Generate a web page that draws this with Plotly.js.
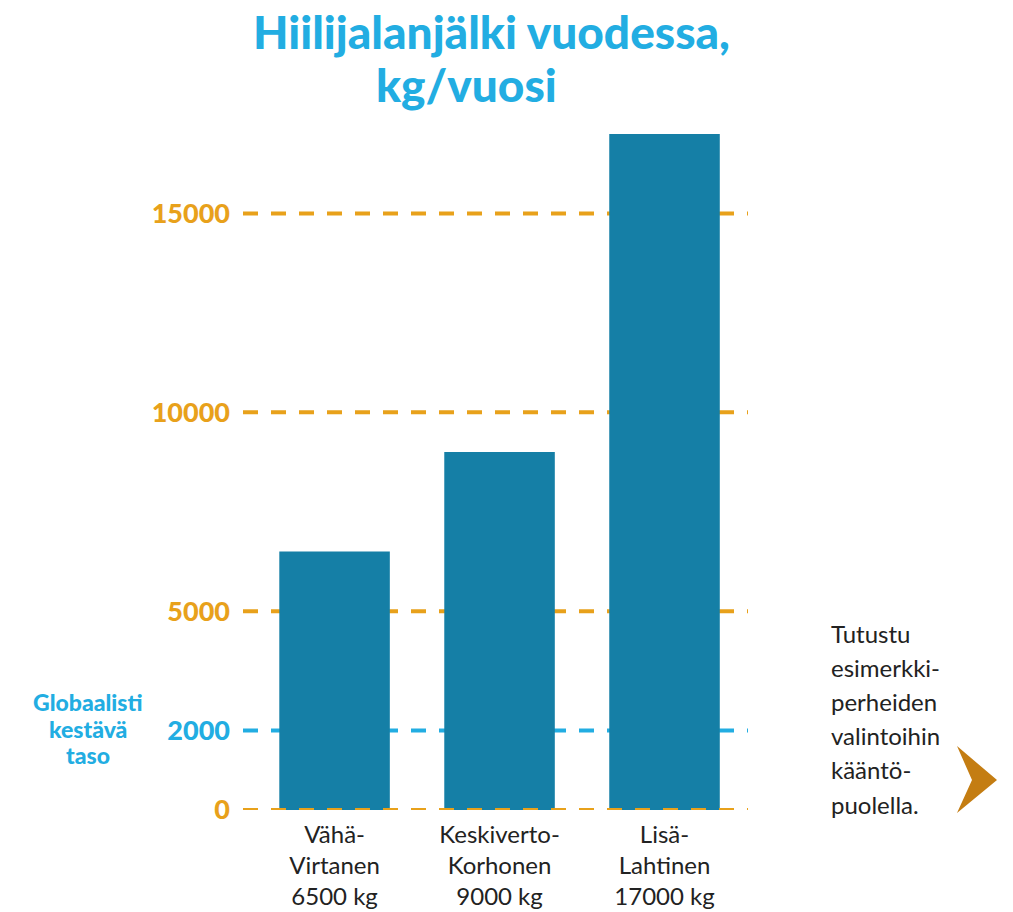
<!DOCTYPE html>
<html>
<head>
<meta charset="utf-8">
<script src="https://cdn.plot.ly/plotly-3.0.1.min.js"></script>
<style>html,body{margin:0;padding:0;background:#fff;}#chart{width:1013px;height:912px;}</style>
</head>
<body>
<div id="chart"></div>
<script>
// ---- data ----
const families = ["Vähä-<br>Virtanen", "Keskiverto-<br>Korhonen", "Lisä-<br>Lahtinen"];
const footprints = [6500, 9000, 17000];
const levelValues = [0, 2000, 5000, 10000, 15000];
const levelLabels = ["0", "2000", "5000", "10000", "15000"];
const sustainableLevel = 2000;
const sustainableLabel = ["Globaalisti", "kestävä", "taso"];
const sideNote = ["Tutustu", "esimerkki-", "perheiden", "valintoihin", "kääntö-", "puolella."];
const titleLines = ["Hiilijalanjälki vuodessa,", "kg/vuosi"];

// ---- styles ----
const ORANGE = "#e8a11b", BLUE = "#22ade2", BAR = "#157fa6", DARK = "#222222", ARROW = "#c47d12";
const FONT = "Lato, 'Open Sans', sans-serif";
const HEAVY = "'Lato Black', 'Lato Heavy', Lato, sans-serif";
const W = 1013, H = 912;
const L = 243, R = 748, T = 113.5, B = 810;
const px2x = p => (p - L) / (R - L);
const px2y = p => (B - p) / (B - T);

const xIdx = families.map((_, i) => i);

const trace = {
  type: "bar",
  x: xIdx,
  y: footprints,
  width: 0.67,
  marker: {color: BAR, line: {width: 0}},
  hoverinfo: "skip"
};

const shapes = levelValues.map(v => ({
  type: "line", xref: "paper", yref: "y", x0: 0, x1: 1, y0: v, y1: v,
  layer: v === 0 ? "above" : "below",
  line: {color: v === sustainableLevel ? BLUE : ORANGE, width: 4, dash: "15px,13px"}
}));
shapes.push({
  type: "path", xref: "paper", yref: "paper", layer: "above",
  path: `M ${px2x(957)} ${px2y(746)} L ${px2x(997)} ${px2y(780)} L ${px2x(957)} ${px2y(813)} L ${px2x(972)} ${px2y(780)} Z`,
  fillcolor: ARROW, line: {width: 0}
});

const annotations = [];
const titleX = [491, 466], titleY = [31, 84];
titleLines.forEach((t, i) => {
  annotations.push({
    xref: "paper", yref: "paper", x: px2x(titleX[i]), y: px2y(titleY[i]),
    xanchor: "center", yanchor: "middle", showarrow: false,
    text: "<b>" + t + "</b>", font: {family: HEAVY, size: 46, color: BLUE}
  });
});
sustainableLabel.forEach((t, i) => {
  annotations.push({
    xref: "paper", yref: "paper", x: px2x(88), y: px2y(702 + i * 26.5),
    xanchor: "center", yanchor: "middle", showarrow: false,
    text: "<b>" + t + "</b>", font: {family: HEAVY, size: 23, color: BLUE}
  });
});
sideNote.forEach((t, i) => {
  annotations.push({
    xref: "paper", yref: "paper", x: px2x(829), y: px2y(633 + i * 34.2),
    xanchor: "left", yanchor: "middle", showarrow: false,
    text: t, font: {family: FONT, size: 24, color: DARK}
  });
});

const layout = {
  width: W, height: H,
  paper_bgcolor: "#fff", plot_bgcolor: "#fff",
  margin: {l: L, r: W - R, t: T, b: H - B, pad: 0},
  showlegend: false,
  xaxis: {
    range: [-0.555, 2.506],
    tickvals: xIdx,
    ticktext: families.map((f, i) => f + "<br>" + footprints[i] + " kg"),
    tickfont: {family: FONT, size: 24, color: DARK},
    ticklabelstandoff: 8,
    showgrid: false, zeroline: false, showline: false, ticks: "",
    fixedrange: true
  },
  yaxis: {
    range: [0, 17500],
    tickvals: levelValues,
    ticktext: levelLabels.map((t, i) => levelValues[i] === sustainableLevel
      ? `<span style="color:${BLUE}"><b>${t}</b></span>` : `<b>${t}</b>`),
    tickfont: {family: HEAVY, size: 27, color: ORANGE},
    ticklabelstandoff: 12,
    showgrid: false, zeroline: false, showline: false, ticks: "",
    fixedrange: true
  },
  shapes: shapes,
  annotations: annotations
};

Plotly.newPlot("chart", [trace], layout, {displayModeBar: false, staticPlot: true});
</script>
</body>
</html>
